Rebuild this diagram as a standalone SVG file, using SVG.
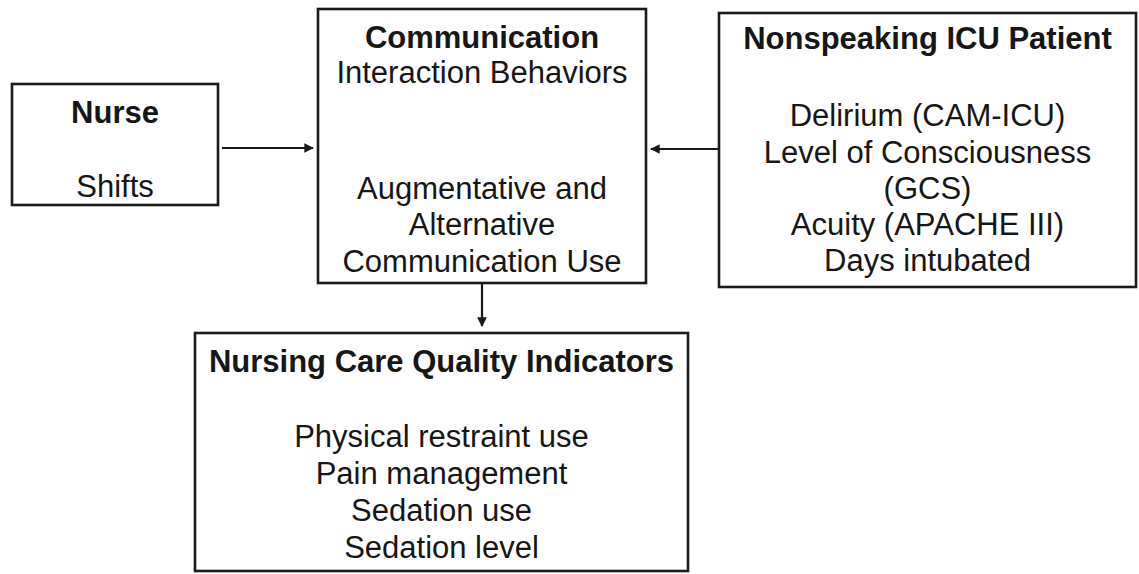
<svg xmlns="http://www.w3.org/2000/svg" width="1139" height="574" viewBox="0 0 1139 574">
  <defs>
    <style>
      .box { fill: #fff; stroke: #1a1a1a; stroke-width: 2.6; }
      .t { font-family: "Liberation Sans", Arial, sans-serif; font-size: 31px; fill: #161616; text-anchor: middle; }
      .h { font-weight: bold; }
      .edge { stroke: #1a1a1a; stroke-width: 2.2; fill: none; marker-end: url(#arrow); }
    </style>
    <marker id="arrow" viewBox="0 0 10 10" refX="9" refY="5" markerWidth="4.8" markerHeight="4.4" orient="auto" markerUnits="strokeWidth">
      <path d="M0,0 L10,5 L0,10 z" fill="#1a1a1a"/>
    </marker>
  </defs>
  <rect width="1139" height="574" fill="#fff"/>

  <g id="connectors">
    <line class="edge" x1="222" y1="148" x2="313" y2="148"/>
    <line class="edge" x1="719" y1="149" x2="651" y2="149"/>
    <line class="edge" x1="482" y1="283" x2="482" y2="326"/>
  </g>

  <g id="nurse">
    <rect class="box" x="12" y="84" width="206" height="121"/>
    <text class="t h" x="115" y="123">Nurse</text>
    <text class="t" x="115" y="197">Shifts</text>
  </g>

  <g id="communication">
    <rect class="box" x="318" y="9" width="328" height="274"/>
    <text class="t h" x="482" y="48">Communication</text>
    <text class="t" x="482" y="83">Interaction Behaviors</text>
    <text class="t" x="482" y="199">Augmentative and</text>
    <text class="t" x="482" y="235">Alternative</text>
    <text class="t" x="482" y="272">Communication Use</text>
  </g>

  <g id="patient">
    <rect class="box" x="719" y="13" width="417" height="274"/>
    <text class="t h" x="927.5" y="49">Nonspeaking ICU Patient</text>
    <text class="t" x="927.5" y="126">Delirium (CAM-ICU)</text>
    <text class="t" x="927.5" y="163">Level of Consciousness</text>
    <text class="t" x="927.5" y="199">(GCS)</text>
    <text class="t" x="927.5" y="235">Acuity (APACHE III)</text>
    <text class="t" x="927.5" y="271">Days intubated</text>
  </g>

  <g id="quality">
    <rect class="box" x="195" y="333" width="493" height="238"/>
    <text class="t h" x="441.5" y="372">Nursing Care Quality Indicators</text>
    <text class="t" x="441.5" y="447">Physical restraint use</text>
    <text class="t" x="441.5" y="484">Pain management</text>
    <text class="t" x="441.5" y="521">Sedation use</text>
    <text class="t" x="441.5" y="558">Sedation level</text>
  </g>
</svg>
